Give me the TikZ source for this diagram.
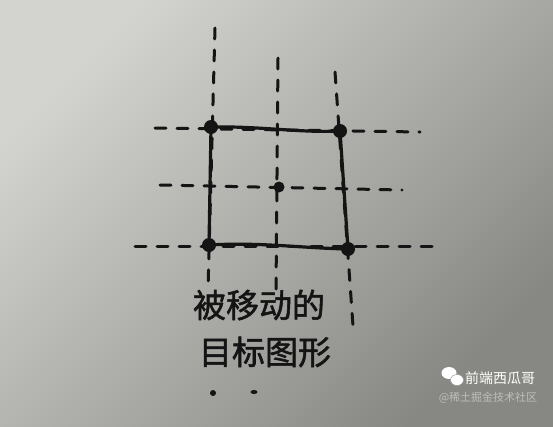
\documentclass[tikz,border=0pt]{standalone}
\usepackage{fontspec}
\usetikzlibrary{shapes.geometric}
\newfontfamily\cjk{Noto Sans CJK SC}
\newfontfamily\cjkhand{Noto Sans CJK SC}[FakeBold=1.6]
\definecolor{paperlight}{HTML}{D3D4CF}
\definecolor{paperdark}{HTML}{878883}
\definecolor{inkc}{HTML}{141414}
\begin{document}
\begin{tikzpicture}[x=1pt,y=-1pt,
  ink/.style={line width=3.2pt,color=inkc,line cap=round,line join=round},
  dashline/.style={ink,line width=3pt,dash pattern=on 11pt off 11pt},
  dot/.style={circle,fill=inkc,inner sep=0pt,minimum size=14pt},
  label/.style={font=\cjkhand\fontsize{33}{36}\selectfont,text=inkc,inner sep=0pt}]
\useasboundingbox (0,0) rectangle (553,426);
\shade[top color=paperlight,bottom color=paperdark,shading angle=45] (0,0) rectangle (553,426);
% dashed guide lines
\coordinate (vl1) at (215,28);  \coordinate (vl2) at (208,290);
\coordinate (vm1) at (278,58);  \coordinate (vm2) at (276,292);
\coordinate (vr1) at (335,72);  \coordinate (vr2) at (353,326);
\coordinate (ht1) at (155,128); \coordinate (ht2) at (420,132);
\coordinate (hm1) at (160,185); \coordinate (hm2) at (402,190);
\coordinate (hb1) at (135,246); \coordinate (hb2) at (432,246);
\draw[dashline] (vl1) -- (vl2);
\draw[dashline] (vm1) -- (vm2);
\draw[dashline] (vr1) -- (vr2);
\draw[dashline] (ht1) -- (ht2);
\draw[dashline] (hm1) -- (hm2);
\draw[dashline] (hb1) -- (hb2);
% rectangle corners
\node[dot] (tl) at (211,127) {};
\node[dot] (tr) at (340,131) {};
\node[dot] (br) at (348,249) {};
\node[dot] (bl) at (209,245) {};
\node[dot,minimum size=11pt] (c) at (279,187) {};
\draw[ink] (tl.center) .. controls (260,126) and (300,133) .. (tr.center)
  -- (br.center) .. controls (300,248) and (260,242) .. (bl.center) -- cycle;
% label
\node[label] (t1) at (259,305) {被移动的};
\node[label] (t2) at (265,352) {目标图形};
\node[circle,fill=inkc,inner sep=0pt,minimum size=6pt] (d1) at (213,393) {};
\node[ellipse,fill=inkc,inner sep=0pt,minimum width=7pt,minimum height=4pt] (d2) at (254,392) {};
% watermark
\node[font=\cjk\fontsize{14}{16}\selectfont,text=white] (wm) at (500,378) {前端西瓜哥};
\node[font=\cjk\fontsize{11}{13}\selectfont,text=white,opacity=0.45] (wm2) at (488,398) {@稀土掘金技术社区};
\node[ellipse,fill=white,inner sep=0pt,minimum width=15pt,minimum height=12pt] (ic1) at (449,373) {};
\node[ellipse,fill=white,draw=black!40,line width=0.5pt,inner sep=0pt,minimum width=13pt,minimum height=11pt] (ic2) at (457,380) {};
\end{tikzpicture}
\end{document}
